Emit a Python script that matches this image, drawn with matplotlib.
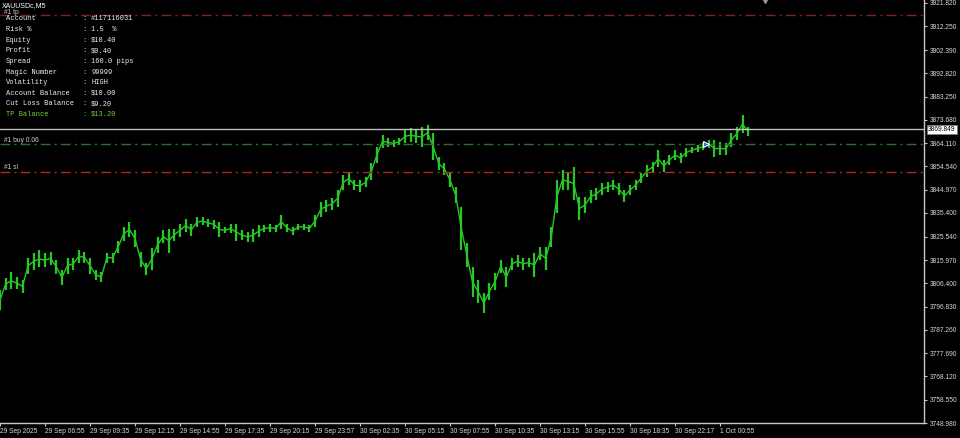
import matplotlib
matplotlib.use('Agg')
import matplotlib.pyplot as plt
import matplotlib.transforms as mtransforms
import numpy as np

# XAUUSDc M5 - one sample every 4 bars, high / low
bar_step = 4
highs = [3803.7, 3808.6, 3811.0, 3809.0, 3808.0, 3817.0, 3819.0, 3820.0, 3819.0, 3819.5,
         3816.0, 3812.0, 3817.0, 3817.0, 3820.0, 3819.5, 3817.0, 3812.0, 3811.0, 3819.0,
         3819.0, 3824.0, 3829.6, 3831.7, 3828.4, 3819.5, 3815.0, 3821.0, 3825.5, 3828.4,
         3829.0, 3829.0, 3831.0, 3833.0, 3831.0, 3833.7, 3833.7, 3833.0, 3832.5, 3831.7,
         3829.6, 3831.0, 3831.0, 3828.4, 3827.6, 3829.0, 3830.5, 3830.5, 3831.0, 3830.5,
         3834.6, 3831.0, 3829.6, 3831.0, 3831.0, 3830.5, 3834.6, 3840.0, 3840.7, 3841.6,
         3844.9, 3851.0, 3852.3, 3849.0, 3849.0, 3850.2, 3856.0, 3862.6, 3867.5, 3866.3,
         3865.4, 3866.3, 3869.6, 3870.4, 3869.6, 3870.8, 3871.6, 3868.3, 3858.4, 3856.0,
         3851.9, 3846.0, 3837.9, 3823.0, 3813.0, 3807.8, 3802.5, 3806.6, 3810.7, 3816.0,
         3813.0, 3817.0, 3818.0, 3817.0, 3817.0, 3819.0, 3821.4, 3821.4, 3829.6, 3849.0,
         3853.1, 3851.9, 3854.3, 3842.0, 3842.0, 3844.9, 3845.7, 3847.7, 3848.2, 3849.0,
         3847.7, 3844.9, 3846.9, 3849.0, 3851.9, 3855.2, 3856.4, 3861.3, 3857.2, 3859.3,
         3861.3, 3860.0, 3862.2, 3862.6, 3863.4, 3864.2, 3865.4, 3865.4, 3864.6, 3864.2,
         3868.3, 3870.8, 3875.7, 3870.8]
lows = [3795.5, 3803.7, 3804.0, 3804.0, 3802.5, 3810.5, 3812.0, 3813.0, 3813.0, 3814.0,
        3810.5, 3805.8, 3810.5, 3812.0, 3815.0, 3815.0, 3810.5, 3808.0, 3807.0, 3815.0,
        3815.0, 3819.0, 3824.0, 3825.5, 3821.4, 3813.0, 3810.0, 3812.0, 3819.0, 3823.0,
        3819.0, 3824.0, 3825.5, 3827.6, 3826.0, 3829.6, 3830.5, 3829.6, 3829.0, 3825.5,
        3827.0, 3827.0, 3824.0, 3824.3, 3823.5, 3823.5, 3825.5, 3827.6, 3827.6, 3827.6,
        3829.0, 3827.6, 3826.3, 3828.4, 3828.4, 3827.6, 3829.6, 3833.7, 3835.8, 3836.6,
        3837.9, 3844.9, 3846.9, 3844.9, 3844.0, 3846.0, 3849.0, 3856.0, 3862.2, 3862.6,
        3862.6, 3863.4, 3864.2, 3864.6, 3864.2, 3862.6, 3865.4, 3857.2, 3853.1, 3851.0,
        3846.0, 3839.5, 3820.2, 3813.0, 3800.8, 3798.4, 3794.2, 3799.6, 3803.7, 3810.7,
        3805.0, 3812.0, 3813.0, 3812.0, 3813.0, 3809.0, 3816.0, 3812.0, 3821.4, 3835.4,
        3844.9, 3844.9, 3840.7, 3832.5, 3835.4, 3839.5, 3840.7, 3842.8, 3844.0, 3844.9,
        3842.8, 3839.9, 3842.8, 3844.9, 3847.7, 3850.2, 3852.3, 3854.3, 3852.3, 3855.2,
        3857.2, 3856.0, 3858.4, 3860.0, 3860.5, 3861.3, 3862.2, 3858.4, 3859.3, 3859.3,
        3862.6, 3865.4, 3868.3, 3867.0]

# order levels
tp_price = 3916.9
buy_price = 3863.8
sl_price = 3852.3
bid_price = 3869.849
entry_bar = 502

price_ticks = [3921.820, 3912.250, 3902.390, 3892.820, 3883.250, 3873.680, 3864.110,
               3854.540, 3844.970, 3835.400, 3825.540, 3815.970, 3806.400, 3796.830,
               3787.260, 3777.690, 3768.120, 3758.550, 3748.980]
time_labels = ['29 Sep 2025', '29 Sep 06:55', '29 Sep 09:35', '29 Sep 12:15', '29 Sep 14:55',
               '29 Sep 17:35', '29 Sep 20:15', '29 Sep 23:57', '30 Sep 02:35', '30 Sep 05:15',
               '30 Sep 07:55', '30 Sep 10:35', '30 Sep 13:15', '30 Sep 15:55', '30 Sep 18:35',
               '30 Sep 22:17', '1 Oct 00:55']
bars_per_label = 32

info_labels = ['Account', 'Risk %', 'Equity', 'Profit', 'Spread', 'Magic Number',
               'Volatility', 'Account Balance', 'Cut Loss Balance', 'TP Balance']
info_values = ['#117116031', '1.5  %', '$10.40', '$0.40', '160.0 pips', '99999',
               'HIGH', '$10.00', '$9.20', '$13.20']

W, H = 960, 438
fig = plt.figure(figsize=(W / 100, H / 100), dpi=100, facecolor='black')
ax = fig.add_axes([0, 15 / H, 924 / W, 423 / H])
ax.set_facecolor('black')
ax.set_xlim(0, 657)
ax.set_ylim(3748.98, 3923.05)

for s in ['top', 'left']:
    ax.spines[s].set_visible(False)
for s in ['right', 'bottom']:
    ax.spines[s].set_color('#c8c8c8')
    ax.spines[s].set_linewidth(1)

# price bars
x = np.arange(len(highs)) * bar_step
h = np.array(highs)
l = np.array(lows)
green = '#27c727'
ax.vlines(x, l, h, color=green, lw=1.6)
ax.plot(x, (h + l) / 2, color=green, lw=1.0)

# trade levels
ax.axhline(tp_price, color='#8a1f1f', lw=1, dashes=(7, 3, 1.5, 3))
ax.axhline(buy_price, color='#2f6e2f', lw=1, dashes=(7, 3, 1.5, 3))
ax.axhline(sl_price, color='#b32424', lw=1, dashes=(7, 3, 1.5, 3))
ax.axhline(bid_price, color='#c0c0c0', lw=1)
ax.plot(entry_bar, buy_price, marker='>', ms=5, color='#2f5fff', mec='white', mew=0.8)
ax.plot(544, 1.0, marker='v', ms=5, color='#9a9a9a', transform=ax.get_xaxis_transform(),
        clip_on=False)

# axes ticks
ax.yaxis.tick_right()
ax.set_yticks(price_ticks)
ax.set_yticklabels(['%.3f' % p for p in price_ticks])
ax.tick_params(axis='y', colors='#c8c8c8', length=2.5, width=0.8, pad=1.5,
               labelsize=4.8, labelcolor='#d8d8d8')
ax.set_xticks(np.arange(len(time_labels)) * bars_per_label)
ax.set_xticklabels(time_labels, ha='left')
ax.tick_params(axis='x', colors='#c8c8c8', length=2.5, width=0.8, pad=1,
               labelsize=4.8, labelcolor='#d8d8d8')
for lab in ax.get_xticklabels() + ax.get_yticklabels():
    lab.set_family('Liberation Sans')

# bid box
bt = mtransforms.blended_transform_factory(ax.transAxes, ax.transData)
ax.text(1.0 + 4 / 924, bid_price, '%.3f' % bid_price, transform=bt, va='center', ha='left',
        fontsize=4.8, family='Liberation Sans', color='black',
        bbox=dict(facecolor='white', edgecolor='#808080', pad=0.8, lw=0.5))

# text on chart
def ftext(px, py, s, **kw):
    fig.text(px / W, 1 - py / H, s, va='center', **kw)

ftext(2, 5.5, 'XAUUSDc,M5', fontsize=5, family='Liberation Sans', color='white')
ftext(4, 12, '#1 tp', fontsize=4.8, family='Liberation Sans', color='#d0d0d0')
ftext(4, 140, '#1 buy 0.06', fontsize=4.8, family='Liberation Sans', color='#d0d0d0')
ftext(4, 167.5, '#1 sl', fontsize=4.8, family='Liberation Sans', color='#d0d0d0')

for i, (lab, val) in enumerate(zip(info_labels, info_values)):
    col = '#6fd23a' if lab == 'TP Balance' else '#f0f0f0'
    yy = 19 + 10.6 * i
    ftext(6, yy, lab, fontsize=5, family='Liberation Mono', color=col)
    ftext(82, yy, ':', fontsize=5, family='Liberation Mono', color=col)
    ftext(91, yy, val, fontsize=5, family='Liberation Mono', color=col)

fig.savefig('out.png', dpi=100, facecolor='black')
